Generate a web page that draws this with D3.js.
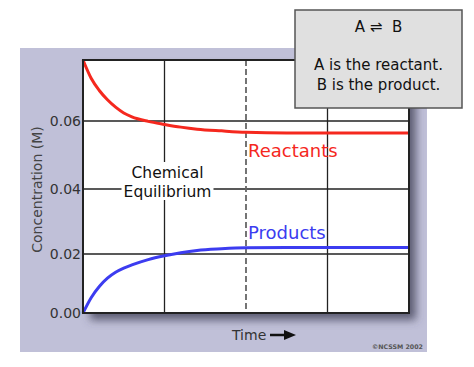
<!DOCTYPE html>
<html>
<head>
<meta charset="utf-8">
<script src="https://cdn.jsdelivr.net/npm/d3@7"></script>
<style>
  body { margin: 0; background: #fff; }
  text { font-family: "DejaVu Sans", Verdana, sans-serif; }
</style>
</head>
<body>
<svg id="chart" width="474" height="367"></svg>
<script>
// values
const time = [0, 0.1, 0.2, 0.3, 0.4, 0.5, 0.6, 0.8, 1.0, 1.2, 1.4, 1.7, 2.0, 2.5, 3.0, 3.5, 4.0];
const reactants = [0.079, 0.0733, 0.0695, 0.0666, 0.0643, 0.0625, 0.0613, 0.0599, 0.0590, 0.0582, 0.0576, 0.0571, 0.0567, 0.0565, 0.0565, 0.0565, 0.0565];
const products = [0, 0.0052, 0.0090, 0.0118, 0.0138, 0.0152, 0.0163, 0.0181, 0.0194, 0.0204, 0.0211, 0.0216, 0.0219, 0.0220, 0.0220, 0.0220, 0.0220];
const yTicks = [0, 0.02, 0.04, 0.06];
const xGrid = [1, 3];
const equilibriumTime = 2;

const svg = d3.select('#chart');

// lavender panel
svg.append('rect')
    .attr('x', 20).attr('y', 48)
    .attr('width', 407).attr('height', 304)
    .attr('fill', '#c0c0d8');

const plot = {left: 83, right: 409, top: 60, bottom: 313};

// the drawn axis is not quite even, so follow the printed gridlines
const x = d3.scaleLinear().domain([0, 4]).range([plot.left, plot.right]);
const y = d3.scaleLinear()
    .domain([0, 0.02, 0.04, 0.06, 0.079])
    .range([313, 254, 189, 121, plot.top]);

const defs = svg.append('defs');
const shadow = defs.append('filter').attr('id', 'shadow')
    .attr('x', '-10%').attr('y', '-10%').attr('width', '130%').attr('height', '130%');
shadow.append('feDropShadow')
    .attr('dx', 7).attr('dy', 7).attr('stdDeviation', 4)
    .attr('flood-color', '#45455a').attr('flood-opacity', 0.8);

// plot background with shadow
svg.append('rect')
    .attr('x', plot.left).attr('y', plot.top)
    .attr('width', plot.right - plot.left).attr('height', plot.bottom - plot.top)
    .attr('fill', '#fff')
    .attr('filter', 'url(#shadow)');

const grid = svg.append('g').attr('stroke', '#222').attr('stroke-width', 1.3);

grid.selectAll('.hgrid')
  .data(yTicks.slice(1))
  .join('line')
    .attr('class', 'hgrid')
    .attr('x1', plot.left).attr('x2', plot.right)
    .attr('y1', d => y(d)).attr('y2', d => y(d));

grid.selectAll('.vgrid')
  .data(xGrid)
  .join('line')
    .attr('class', 'vgrid')
    .attr('x1', d => x(d)).attr('x2', d => x(d))
    .attr('y1', plot.top).attr('y2', plot.bottom);

svg.append('line')
    .attr('x1', x(equilibriumTime)).attr('x2', x(equilibriumTime))
    .attr('y1', plot.top).attr('y2', plot.bottom)
    .attr('stroke', '#666')
    .attr('stroke-width', 1.8)
    .attr('stroke-dasharray', '6,3');

// y axis tick labels
svg.append('g')
  .selectAll('text')
  .data(yTicks)
  .join('text')
    .attr('x', plot.left - 2)
    .attr('y', d => y(d))
    .attr('dy', '0.35em')
    .attr('text-anchor', 'end')
    .attr('font-size', 14)
    .attr('fill', '#333')
    .text(d3.format('.2f'));

svg.append('text')
    .attr('transform', `translate(42, ${(plot.top + plot.bottom) / 2 + 3}) rotate(-90)`)
    .attr('text-anchor', 'middle')
    .attr('font-size', 14)
    .attr('fill', '#444')
    .text('Concentration (M)');

// Chemical Equilibrium label, knocking out the gridlines behind it
const eq = svg.append('g').attr('transform', `translate(${x(1) + 3}, 0)`);
eq.append('rect')
    .attr('x', -46).attr('y', 162)
    .attr('width', 92).attr('height', 38)
    .attr('fill', '#fff');
eq.selectAll('text')
  .data(['Chemical', 'Equilibrium'])
  .join('text')
    .attr('y', (d, i) => 178 + i * 19)
    .attr('text-anchor', 'middle')
    .attr('font-size', 15.5)
    .attr('fill', '#111')
    .text(d => d);

// curves
const line = d3.line()
    .x(d => x(d[0]))
    .y(d => y(d[1]))
    .curve(d3.curveMonotoneX);

const series = [
  {name: 'Reactants', values: reactants, color: '#f5281e', labelY: y(0.0565) + 24},
  {name: 'Products', values: products, color: '#3c3cf0', labelY: y(0.022) - 9}
];

svg.selectAll('.series')
  .data(series)
  .join('path')
    .attr('class', 'series')
    .attr('fill', 'none')
    .attr('stroke', d => d.color)
    .attr('stroke-width', 3)
    .attr('d', d => line(time.map((t, i) => [t, d.values[i]])));

svg.selectAll('.series-label')
  .data(series)
  .join('text')
    .attr('class', 'series-label')
    .attr('x', x(equilibriumTime) + 2)
    .attr('y', d => d.labelY)
    .attr('font-size', 18)
    .attr('fill', d => d.color)
    .text(d => d.name);

// plot border on top
svg.append('rect')
    .attr('x', plot.left).attr('y', plot.top)
    .attr('width', plot.right - plot.left).attr('height', plot.bottom - plot.top)
    .attr('fill', 'none')
    .attr('stroke', '#222')
    .attr('stroke-width', 2);

// x axis title with arrow
svg.append('text')
    .attr('x', 232).attr('y', 340)
    .attr('font-size', 14)
    .attr('fill', '#333')
    .text('Time');
svg.append('line')
    .attr('x1', 270).attr('x2', 286)
    .attr('y1', 335).attr('y2', 335)
    .attr('stroke', '#111').attr('stroke-width', 2.5);
svg.append('path')
    .attr('d', 'M284,330 L296,335 L284,340 Z')
    .attr('fill', '#111');

svg.append('text')
    .attr('x', 423).attr('y', 349)
    .attr('text-anchor', 'end')
    .attr('font-size', 6.3)
    .attr('font-weight', 'bold')
    .attr('fill', '#555')
    .text('©NCSSM 2002');

// info box
const box = svg.append('g').attr('transform', 'translate(295, 10)');
box.append('rect')
    .attr('width', 167).attr('height', 98)
    .attr('fill', '#e0e0e0')
    .attr('stroke', '#555')
    .attr('stroke-width', 1.5);
box.selectAll('text')
  .data([['A \u21CC  B', 22], ['A is the reactant.', 60], ['B is the product.', 80]])
  .join('text')
    .attr('x', 83.5)
    .attr('y', d => d[1])
    .attr('text-anchor', 'middle')
    .attr('font-family', '"Liberation Sans", Arial, sans-serif')
    .attr('font-size', 15)
    .attr('fill', '#111')
    .attr('xml:space', 'preserve')
    .style('white-space', 'pre')
    .text(d => d[0]);
</script>
</body>
</html>
